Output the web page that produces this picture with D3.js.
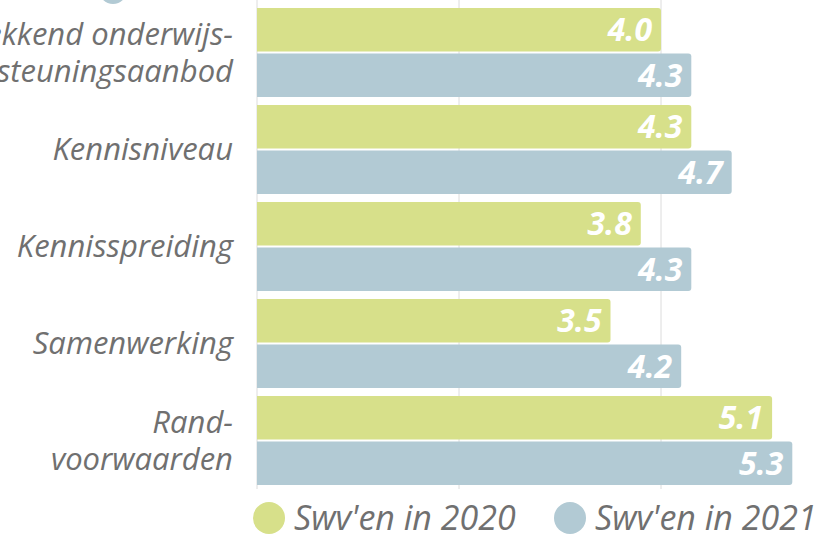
<!DOCTYPE html>
<html><head><meta charset="utf-8">
<script src="https://cdn.jsdelivr.net/npm/d3@7"></script>
<style>html,body{margin:0;padding:0;background:#fff;overflow:hidden}</style>
</head><body>
<svg id="chart" width="825" height="535"></svg>
<script>
const categories = [
  ["Dekkend onderwijs-", "ondersteuningsaanbod"],
  ["Kennisniveau"],
  ["Kennisspreiding"],
  ["Samenwerking"],
  ["Rand-", "voorwaarden"]
];
const catKeys = ["Dekkend onderwijsondersteuningsaanbod","Kennisniveau","Kennisspreiding","Samenwerking","Randvoorwaarden"];
const series = ["Swv'en in 2020", "Swv'en in 2021"];
const values2020 = [4.0, 4.3, 3.8, 3.5, 5.1];
const values2021 = [4.3, 4.7, 4.3, 4.2, 5.3];
const gridTicks = [2, 4];
const colors = ["#d7e08a", "#b2cad4"];

const svg = d3.select("#chart");
const x = d3.scaleLinear().domain([0, 6]).range([257, 863]);
const y = d3.scaleBand().domain(catKeys).range([4, 489]).paddingInner(8/97).paddingOuter(4/97);
const ySub = d3.scaleBand().domain(series).range([0, y.bandwidth()]).paddingInner(0.04);

const font = "'Open Sans', sans-serif";

// decorative partial legend dot at top (cropped)
svg.append("circle").attr("cx", 113).attr("cy", -10).attr("r", 14).attr("fill", colors[1]);

// gridlines
svg.append("g").selectAll("line").data(gridTicks).join("line")
  .attr("x1", d => x(d)).attr("x2", d => x(d))
  .attr("y1", 0).attr("y2", 489)
  .attr("stroke", "#dcdcdc").attr("stroke-width", 1);
svg.append("line").attr("x1", x(0)).attr("x2", x(0)).attr("y1", 0).attr("y2", 489)
  .attr("stroke", "#dcdcdc").attr("stroke-width", 1);

function barPath(x0, x1, y0, h, r) {
  return `M${x0},${y0}H${x1 - r}Q${x1},${y0} ${x1},${y0 + r}V${y0 + h - r}Q${x1},${y0 + h} ${x1 - r},${y0 + h}H${x0}Z`;
}

const data = catKeys.map((k, i) => ({ key: k, vals: [values2020[i], values2021[i]] }));
const groups = svg.append("g").selectAll("g").data(data).join("g")
  .attr("transform", d => `translate(0,${y(d.key)})`);

groups.each(function(d) {
  const g = d3.select(this);
  d.vals.forEach((v, si) => {
    const yy = ySub(series[si]);
    const h = ySub.bandwidth();
    g.append("path").attr("d", barPath(x(0), x(v), yy, h, 3)).attr("fill", colors[si]);
    g.append("text").attr("x", x(v) - 9).attr("y", yy + h / 2).attr("dy", "0.36em")
      .attr("text-anchor", "end").attr("fill", "#fff")
      .style("font-family", font).style("font-size", "32px").style("font-weight", "700").style("font-style", "italic")
      .text(v.toFixed(1));
  });
});

// category labels
svg.append("g").selectAll("text").data(categories).join("text")
  .attr("text-anchor", "end")
  .attr("fill", "#707070")
  .style("font-family", font).style("font-size", "31px").style("font-style", "italic")
  .each(function(lines, i) {
    const cy = y(catKeys[i]) + y.bandwidth() / 2;
    const lh = 37;
    const t = d3.select(this);
    lines.forEach((ln, j) => {
      t.append("tspan").attr("x", 233)
        .attr("y", cy + (j - (lines.length - 1) / 2) * lh)
        .attr("dy", "0.35em").text(ln);
    });
  });

// legend
const legendX = [269, 570];
const lg = svg.append("g").selectAll("g").data(series).join("g")
  .attr("transform", (d, i) => `translate(${legendX[i]},518)`);
lg.append("circle").attr("r", 16).attr("fill", (d, i) => colors[i]);
lg.append("text").attr("x", 25).attr("dy", "0.36em").attr("fill", "#707070")
  .style("font-family", font).style("font-size", "34px").style("font-style", "italic")
  .text(d => d);
</script>
</body></html>
